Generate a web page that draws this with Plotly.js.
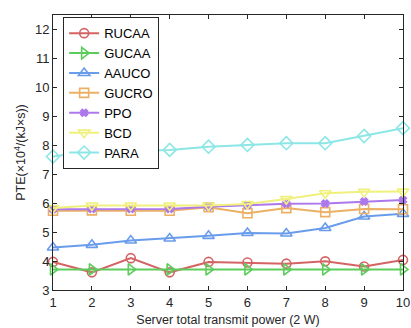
<!DOCTYPE html>
<html>
<head>
<meta charset="utf-8">
<script src="https://cdn.plot.ly/plotly-3.0.1.min.js"></script>
<style>html,body{margin:0;padding:0;background:#fff}#chart{width:411px;height:328px}</style>
</head>
<body>
<div id="chart"></div>
<script>
const powers = [1,2,3,4,5,6,7,8,9,10];
const RUCAA = [3.97,3.61,4.10,3.61,3.97,3.95,3.91,3.99,3.81,4.04];
const GUCAA = [3.71,3.71,3.71,3.71,3.71,3.71,3.71,3.71,3.71,3.71];
const AAUCO = [4.47,4.56,4.71,4.78,4.87,4.97,4.95,5.14,5.54,5.63];
const GUCRO = [5.74,5.75,5.74,5.74,5.86,5.65,5.83,5.69,5.80,5.79];
const PPO   = [5.79,5.80,5.80,5.80,5.88,5.93,5.98,5.99,6.06,6.11];
const BCD   = [5.83,5.92,5.92,5.92,5.92,5.97,6.14,6.34,6.39,6.40];
const PARA  = [7.61,7.80,7.80,7.84,7.95,8.01,8.07,8.07,8.32,8.59];
const names = ['RUCAA','GUCAA','AAUCO','GUCRO','PPO','BCD','PARA'];
const series = [RUCAA,GUCAA,AAUCO,GUCRO,PPO,BCD,PARA];
const colors = ['#d46464','#5ccc5c','#6a9cec','#ecb064','#ac78ec','#f0f07c','#8ce6e6'];
const symbols = ['circle-open','triangle-right-open','triangle-up-open','square-open','x','triangle-down-open','diamond-open'];
const sizes = [9,10,10,9,6,10,10];

const traces = series.map((s,i)=>({
  x: powers, y: s, name: names[i], type:'scatter', mode:'lines+markers',
  line:{color:colors[i], width:2},
  marker:{symbol:symbols[i], size:sizes[i], color:colors[i], line:{color:colors[i], width:1.6}},
  cliponaxis:false
}));

const layout = {
  width:411, height:328,
  margin:{l:53, r:8, t:15, b:38},
  paper_bgcolor:'#fff', plot_bgcolor:'#fff',
  font:{family:'"Liberation Sans", Arial, sans-serif', size:13, color:'#262626'},
  showlegend:true,
  legend:{x:0.029, y:0.992, xanchor:'left', yanchor:'top', bgcolor:'#fff',
    bordercolor:'#262626', borderwidth:1, font:{size:13, color:'#000'}, tracegroupgap:0,
    itemwidth:30},
  xaxis:{range:[1,10], tickvals:powers, ticks:'inside', ticklen:4, tickcolor:'#262626',
    showline:true, linecolor:'#262626', linewidth:1, mirror:'ticks', showgrid:false, zeroline:false,
    tickfont:{size:13, color:'#262626'},
    title:{text:'Server total transmit power (2 W)', font:{size:12.5, color:'#262626'}, standoff:6}},
  yaxis:{range:[3,12.5], tickvals:[3,4,5,6,7,8,9,10,11,12], ticks:'inside', ticklen:4, tickcolor:'#262626',
    showline:true, linecolor:'#262626', linewidth:1, mirror:'ticks', showgrid:false, zeroline:false,
    tickfont:{size:13, color:'#262626'},
    title:{text:'PTE(\u00d710<sup>4</sup>/(kJ\u00d7s))', font:{size:12.5, color:'#262626'}, standoff:6}}
};
Plotly.newPlot('chart', traces, layout, {displayModeBar:false, staticPlot:true});
</script>
</body>
</html>
